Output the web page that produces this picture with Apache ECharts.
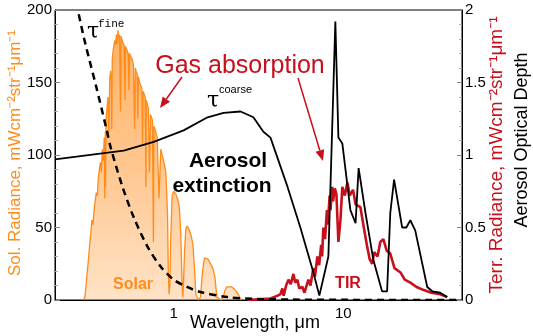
<!DOCTYPE html>
<html><head><meta charset="utf-8">
<script src="https://cdn.jsdelivr.net/npm/echarts@6/dist/echarts.min.js"></script>
<style>html,body{margin:0;padding:0;background:#fff}#c{width:533px;height:336px}</style>
</head><body><div id="c"></div>
<script>
// Solar radiance [wavelength µm, mWcm-2 str-1 µm-1]
const solar = [[0.295,0],[0.30,2],[0.305,10],[0.31,20],[0.315,28],[0.32,38],[0.325,46],[0.33,55],[0.335,52],[0.34,62],[0.345,68],[0.35,74],[0.355,72],[0.36,84],[0.365,90],[0.37,95],[0.375,88],[0.38,104],[0.385,96],[0.39,112],[0.393,70],[0.396,116],[0.397,78],[0.40,125],[0.405,132],[0.41,140],[0.415,115],[0.42,152],[0.425,158],[0.43,150],[0.432,118],[0.435,166],[0.44,172],[0.445,176],[0.45,179],[0.455,176],[0.46,183],[0.465,176],[0.47,186],[0.475,180],[0.48,183],[0.486,130],[0.49,182],[0.50,178],[0.51,176],[0.518,138],[0.52,175],[0.53,174],[0.54,170],[0.545,145],[0.55,170],[0.56,168],[0.57,166],[0.58,162],[0.589,118],[0.595,160],[0.60,158],[0.61,156],[0.615,125],[0.62,154],[0.63,150],[0.64,149],[0.65,146],[0.656,108],[0.66,144],[0.67,142],[0.68,140],[0.687,78],[0.69,138],[0.70,135],[0.71,132],[0.72,88],[0.73,128],[0.74,126],[0.75,124],[0.76,40],[0.765,120],[0.78,117],[0.80,112],[0.82,70],[0.84,104],[0.86,99],[0.88,94],[0.90,88],[0.92,60],[0.93,20],[0.94,4],[0.95,10],[0.96,40],[0.98,72],[1.0,75],[1.03,73],[1.06,69],[1.08,64],[1.10,48],[1.12,14],[1.13,2],[1.14,8],[1.16,34],[1.18,49],[1.2,51],[1.24,48],[1.27,44],[1.30,38],[1.33,20],[1.35,4],[1.40,0],[1.44,2],[1.48,20],[1.52,29],[1.56,29],[1.6,28],[1.65,25],[1.70,22],[1.75,16],[1.78,7],[1.80,2],[1.90,0],[1.96,2],[2.0,6],[2.05,9],[2.1,10],[2.2,9],[2.3,7],[2.4,4],[2.45,2],[2.5,0]];
// Terrestrial radiance [wavelength µm, radiance]
const terr = [[2.72,0],[3.2,0.5],[3.72,1],[4.1,3],[4.26,4],[4.37,8],[4.45,3],[4.6,10],[4.75,14],[4.9,11],[5.08,18],[5.2,12],[5.36,14],[5.5,8],[5.74,9],[5.9,5],[6.22,14],[6.4,10],[6.66,22],[6.8,16],[7.03,30],[7.2,24],[7.4,38],[7.5,30],[7.62,50],[7.8,42],[8.0,62],[8.1,52],[8.3,72],[8.4,62],[8.6,78],[8.7,68],[8.9,77],[9.1,73],[9.35,40],[9.61,55],[9.86,78],[10.2,72],[10.56,81],[10.9,72],[11.4,76],[11.8,66],[12.6,64],[13.2,50],[13.8,37],[14.3,28],[14.8,25],[15.2,33],[15.9,30],[16.5,40],[17.2,42],[18.0,34],[18.9,32],[20.0,22],[21.7,19],[23.0,14],[24.8,12],[27.0,9],[29.5,7],[33.0,5],[37.2,4],[40.9,2]];
// Aerosol optical depth, fine mode [wavelength µm, AOD]
const tauFine = [[0.276,1.97],[0.3,1.78],[0.35,1.47],[0.4,1.19],[0.426,1.05],[0.5,0.78],[0.582,0.57],[0.7,0.37],[0.84,0.23],[1.0,0.14],[1.2,0.09],[1.44,0.055],[2.08,0.02],[3,0.008],[5,0.003],[10,0.001],[47,0]];
// Aerosol optical depth, coarse mode
const tauCoarse = [[0.2,0.97],[0.508,1.03],[0.763,1.09],[1.145,1.17],[1.585,1.26],[1.97,1.29],[2.48,1.30],[2.95,1.26],[3.38,1.16],[3.72,1.12],[4.69,0.78],[5.58,0.50],[6.66,0.19],[7.22,0.03],[8.16,0.30],[8.97,1.92],[9.35,1.12],[9.86,1.08],[11.0,0.62],[11.8,0.53],[12.3,0.91],[13.5,0.60],[15.0,0.28],[16.9,0.06],[18.1,0.06],[18.9,0.60],[19.9,0.83],[22.2,0.50],[23.5,0.50],[24.8,0.55],[26.5,0.48],[31.2,0.09],[33.4,0.06],[37.2,0.05],[40.9,0.02]];
const xTicks = [1, 10];
const leftTicks = [0, 50, 100, 150, 200];
const rightTicks = [0, 0.5, 1, 1.5, 2];

const ORANGE = '#ff8c1a', RED = '#c8101c';
const chart = echarts.init(document.getElementById('c'), null, {renderer:'canvas'});
const F = 'Liberation Sans, Arial, sans-serif';

function arrow(x1,y1,x2,y2,color){
  const dx=x2-x1, dy=y2-y1, L=Math.hypot(dx,dy), ux=dx/L, uy=dy/L;
  const hl=11, hw=4.5, bx=x2-ux*hl, by=y2-uy*hl, px=-uy, py=ux;
  return [
    {type:'line', shape:{x1:x1,y1:y1,x2:bx,y2:by}, style:{stroke:color,lineWidth:1.5}, z:100},
    {type:'polygon', shape:{points:[[x2,y2],[bx+px*hw,by+py*hw],[bx-px*hw,by-py*hw]]}, style:{fill:color}, z:100}
  ];
}

const option = {
  animation:false,
  grid:{left:55, right:71, top:10, bottom:36, show:true, borderColor:'#000', borderWidth:1},
  xAxis:{type:'log', logBase:10, min:0.2, max:50,
    axisLine:{lineStyle:{color:'#000'}}, axisTick:{show:false}, splitLine:{show:false},
    axisLabel:{color:'#000', fontSize:15, fontFamily:F, margin:6, showMinLabel:false, showMaxLabel:false,
      formatter:v=> xTicks.indexOf(Math.round(v*1000)/1000)>=0 ? String(Math.round(v)) : ''}},
  yAxis:[
    {type:'value', min:leftTicks[0], max:leftTicks[leftTicks.length-1], interval:50, position:'left',
      axisLine:{show:true, lineStyle:{color:'#000'}}, axisTick:{show:true, inside:true, length:5, lineStyle:{color:'#888'}},
      minorTick:{show:true, splitNumber:5, length:3, lineStyle:{color:'#aaa'}},
      splitLine:{show:false}, axisLabel:{color:'#000', fontSize:15, fontFamily:F, margin:3}},
    {type:'value', min:rightTicks[0], max:rightTicks[rightTicks.length-1], interval:0.5, position:'right',
      axisLine:{show:true, lineStyle:{color:'#000'}}, axisTick:{show:true, inside:true, length:5, lineStyle:{color:'#888'}},
      minorTick:{show:true, splitNumber:5, length:3, lineStyle:{color:'#aaa'}},
      splitLine:{show:false}, axisLabel:{color:'#000', fontSize:15, fontFamily:F, margin:3,
        formatter:v=>String(v)}}
  ],
  series:[
    {name:'Solar', type:'line', data:solar, yAxisIndex:0, showSymbol:false, symbol:'none', z:2,
      lineStyle:{color:ORANGE, width:1.3},
      areaStyle:{color:new echarts.graphic.LinearGradient(0,0,0,1,[{offset:0,color:'rgba(255,140,26,0.95)'},{offset:0.5,color:'rgba(255,140,26,0.7)'},{offset:1,color:'rgba(255,140,26,0.35)'}])}},
    {name:'TIR', type:'line', data:terr, yAxisIndex:0, showSymbol:false, symbol:'none', z:3,
      lineStyle:{color:RED, width:2.6}},
    {name:'tau fine', type:'line', data:tauFine, yAxisIndex:1, showSymbol:false, symbol:'none', smooth:0.3, z:4,
      lineStyle:{color:'#000', width:2.5, type:[7,5]}},
    {name:'tau coarse', type:'line', data:tauCoarse, yAxisIndex:1, showSymbol:false, symbol:'none', z:5,
      lineStyle:{color:'#000', width:1.8}}
  ],
  graphic:[
    {type:'text', x:15, y:153, rotation:Math.PI/2, z:50, style:{text:'Sol. Radiance, mWcm⁻²str⁻¹μm⁻¹', fill:ORANGE, font:'17px '+F, textAlign:'center', textVerticalAlign:'middle'}},
    {type:'text', x:497, y:155, rotation:Math.PI/2, z:50, style:{text:'Terr. Radiance, mWcm⁻²str⁻¹μm⁻¹', fill:RED, font:'19px '+F, textAlign:'center', textVerticalAlign:'middle'}},
    {type:'text', x:522, y:140, rotation:Math.PI/2, z:50, style:{text:'Aerosol Optical Depth', fill:'#000', font:'18px '+F, textAlign:'center', textVerticalAlign:'middle'}},
    {type:'text', x:255, y:323, z:50, style:{text:'Wavelength, μm', fill:'#000', font:'18px '+F, textAlign:'center', textVerticalAlign:'middle'}},
    {type:'text', x:240, y:66, z:50, style:{text:'Gas absorption', fill:RED, font:'25px '+F, textAlign:'center', textVerticalAlign:'middle'}},
    {type:'text', x:228, y:161, z:50, style:{text:'Aerosol', fill:'#000', font:'bold 21px '+F, textAlign:'center', textVerticalAlign:'middle'}},
    {type:'text', x:222, y:186, z:50, style:{text:'extinction', fill:'#000', font:'bold 21px '+F, textAlign:'center', textVerticalAlign:'middle'}},
    {type:'text', x:133, y:285, z:50, style:{text:'Solar', fill:ORANGE, font:'bold 16px '+F, textAlign:'center', textVerticalAlign:'middle'}},
    {type:'text', x:348, y:284, z:50, style:{text:'TIR', fill:RED, font:'bold 16px '+F, textAlign:'center', textVerticalAlign:'middle'}},
    {type:'text', x:93, y:32, z:50, style:{text:'τ', fill:'#000', font:'22px DejaVu Serif, serif', textAlign:'center', textVerticalAlign:'middle'}},
    {type:'text', x:98, y:24, z:50, style:{text:'fine', fill:'#000', font:'11px Liberation Mono, monospace', textAlign:'left', textVerticalAlign:'middle'}},
    {type:'text', x:213, y:101, z:50, style:{text:'τ', fill:'#000', font:'22px DejaVu Serif, serif', textAlign:'center', textVerticalAlign:'middle'}},
    {type:'text', x:219, y:90, z:50, style:{text:'coarse', fill:'#000', font:'11px Liberation Sans, sans-serif', textAlign:'left', textVerticalAlign:'middle'}}
  ].concat(arrow(182,77,160,108,RED), arrow(298,78,323,161,RED))
};
chart.setOption(option);
</script></body></html>
